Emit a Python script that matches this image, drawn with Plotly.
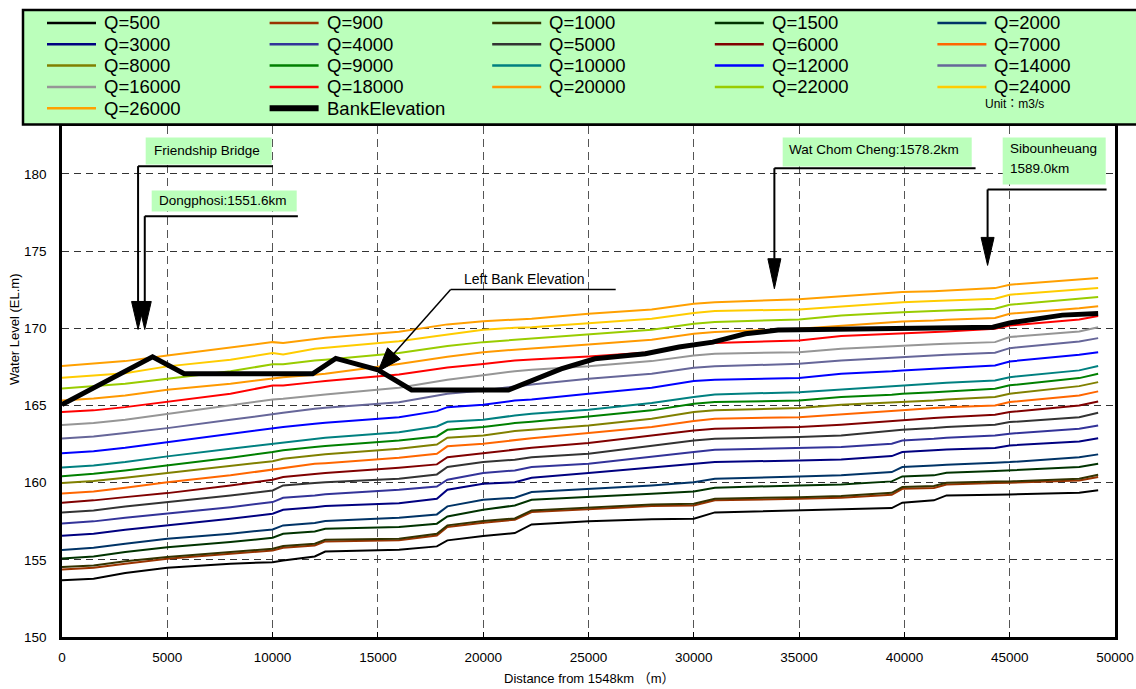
import plotly.graph_objects as go

# ---------------- data ----------------
X_STATIONS = [0, 1500, 3000, 5000, 8000, 10000, 10500, 12000, 12500, 16000, 17800, 18300,
              20000, 21500, 22300, 25000, 28000, 30000, 31000, 35000, 37000, 39400, 39900,
              41400, 42000, 44300, 45000, 48300, 49200]

Q_LABELS = ["Q=500", "Q=900", "Q=1000", "Q=1500", "Q=2000", "Q=3000", "Q=4000", "Q=5000",
            "Q=6000", "Q=7000", "Q=8000", "Q=9000", "Q=10000", "Q=12000", "Q=14000",
            "Q=16000", "Q=18000", "Q=20000", "Q=22000", "Q=24000", "Q=26000"]

Q_COLORS = ["#000000", "#993300", "#333300", "#003300", "#003366", "#000080", "#333399",
            "#333333", "#800000", "#FF6600", "#808000", "#008000", "#008080", "#0000FF",
            "#666699", "#969696", "#FF0000", "#FF9900", "#99CC00", "#FFCC00", "#FFA000"]

WL_500 = [153.67, 153.77, 154.14, 154.49, 154.75, 154.85, 154.96, 155.22, 155.54, 155.65, 155.87, 156.26,
          156.54, 156.73, 157.29, 157.49, 157.62, 157.66, 158.07, 158.22, 158.26, 158.35, 158.70,
          158.85, 159.17, 159.21, 159.23, 159.34, 159.50]
WL_900 = [154.38, 154.49, 154.75, 155.07, 155.39, 155.61, 155.78, 155.93, 156.19, 156.26, 156.58, 157.12,
          157.40, 157.60, 158.09, 158.26, 158.48, 158.52, 158.85, 158.96, 159.02, 159.21, 159.60,
          159.65, 159.88, 159.97, 159.99, 160.14, 160.36]
WL_1000 = [154.53, 154.63, 154.90, 155.18, 155.50, 155.72, 155.89, 156.04, 156.30, 156.36, 156.69, 157.23,
           157.51, 157.68, 158.20, 158.37, 158.59, 158.63, 158.96, 159.06, 159.13, 159.34, 159.71,
           159.78, 159.99, 160.08, 160.08, 160.25, 160.51]
WL_1500 = [155.09, 155.22, 155.50, 155.82, 156.15, 156.43, 156.69, 156.84, 157.01, 157.12, 157.34, 157.81,
           158.24, 158.52, 158.89, 159.06, 159.28, 159.43, 159.67, 159.82, 159.88, 160.08, 160.40,
           160.47, 160.64, 160.75, 160.79, 161.01, 161.22]
WL_2000 = [155.63, 155.78, 156.04, 156.36, 156.69, 156.97, 157.23, 157.38, 157.51, 157.72, 157.94, 158.46,
           158.89, 159.02, 159.39, 159.60, 159.82, 160.03, 160.25, 160.40, 160.47, 160.68, 161.01,
           161.11, 161.16, 161.29, 161.33, 161.65, 161.83]
WL_3000 = [156.56, 156.69, 156.95, 157.23, 157.66, 157.98, 158.24, 158.41, 158.48, 158.67, 158.95, 159.54,
           159.93, 160.03, 160.31, 160.62, 160.96, 161.18, 161.33, 161.44, 161.50, 161.72, 161.98,
           162.09, 162.15, 162.24, 162.41, 162.67, 162.88]
WL_4000 = [157.36, 157.49, 157.72, 157.98, 158.41, 158.74, 159.02, 159.17, 159.24, 159.54, 159.75, 160.19,
           160.62, 160.79, 161.01, 161.22, 161.65, 161.98, 162.13, 162.24, 162.30, 162.52, 162.73,
           162.84, 162.91, 163.06, 163.17, 163.49, 163.70]
WL_5000 = [158.07, 158.20, 158.46, 158.74, 159.17, 159.49, 159.82, 159.97, 160.03, 160.25, 160.53, 161.01,
           161.33, 161.48, 161.65, 161.87, 162.41, 162.73, 162.84, 162.95, 163.06, 163.32, 163.42,
           163.53, 163.60, 163.75, 163.92, 164.24, 164.52]
WL_6000 = [158.69, 158.85, 159.06, 159.32, 159.82, 160.19, 160.36, 160.57, 160.62, 160.96, 161.18, 161.65,
           161.91, 162.13, 162.26, 162.56, 163.06, 163.38, 163.49, 163.60, 163.75, 163.96, 164.03,
           164.18, 164.24, 164.40, 164.57, 165.00, 165.26]
WL_7000 = [159.30, 159.43, 159.67, 160.03, 160.47, 160.83, 160.96, 161.22, 161.26, 161.61, 161.87, 162.35,
           162.52, 162.78, 162.88, 163.21, 163.60, 163.99, 164.14, 164.24, 164.40, 164.61, 164.68,
           164.83, 164.89, 165.00, 165.22, 165.65, 165.91]
WL_8000 = [159.97, 160.10, 160.31, 160.62, 161.05, 161.39, 161.55, 161.76, 161.83, 162.19, 162.47, 162.91,
           163.06, 163.34, 163.42, 163.70, 164.14, 164.57, 164.68, 164.83, 165.04, 165.17, 165.22,
           165.32, 165.39, 165.54, 165.76, 166.25, 166.51]
WL_9000 = [160.42, 160.57, 160.79, 161.11, 161.61, 161.98, 162.09, 162.30, 162.37, 162.73, 162.99, 163.42,
           163.60, 163.86, 163.94, 164.29, 164.68, 165.11, 165.22, 165.32, 165.54, 165.69, 165.76,
           165.86, 165.91, 166.08, 166.30, 166.77, 167.05]
WL_10000 = [160.98, 161.11, 161.33, 161.70, 162.19, 162.52, 162.62, 162.84, 162.91, 163.27, 163.64, 163.94,
            164.07, 164.35, 164.46, 164.72, 165.15, 165.54, 165.71, 165.86, 166.04, 166.25, 166.30,
            166.40, 166.47, 166.62, 166.83, 167.27, 167.55]
WL_12000 = [161.91, 162.04, 162.26, 162.62, 163.15, 163.53, 163.60, 163.81, 163.88, 164.24, 164.63, 164.89,
            165.04, 165.32, 165.39, 165.76, 166.14, 166.58, 166.66, 166.77, 167.05, 167.22, 167.27,
            167.37, 167.42, 167.59, 167.85, 168.28, 168.45]
WL_14000 = [162.86, 162.99, 163.21, 163.53, 164.07, 164.46, 164.52, 164.78, 164.85, 165.20, 165.65, 165.76,
            165.97, 166.25, 166.36, 166.73, 167.05, 167.44, 167.53, 167.70, 167.91, 168.09, 168.13,
            168.24, 168.28, 168.41, 168.71, 169.14, 169.36]
WL_16000 = [163.73, 163.86, 164.07, 164.46, 165.00, 165.39, 165.43, 165.65, 165.71, 166.14, 166.58, 166.66,
            166.95, 167.22, 167.31, 167.53, 167.87, 168.24, 168.35, 168.45, 168.67, 168.84, 168.89,
            168.97, 168.99, 169.10, 169.43, 169.79, 170.07]
WL_18000 = [164.57, 164.68, 164.89, 165.22, 165.76, 166.29, 166.29, 166.51, 166.58, 167.00, 167.37, 167.46,
            167.68, 167.91, 167.98, 168.17, 168.45, 168.89, 169.04, 169.21, 169.49, 169.62, 169.64,
            169.75, 169.79, 169.97, 170.18, 170.57, 170.79]
WL_20000 = [165.32, 165.45, 165.65, 166.01, 166.40, 166.73, 166.83, 166.98, 167.05, 167.68, 168.05, 168.15,
            168.45, 168.63, 168.69, 168.95, 169.25, 169.64, 169.75, 169.97, 170.18, 170.40, 170.44,
            170.50, 170.55, 170.66, 170.94, 171.30, 171.43]
WL_22000 = [166.10, 166.23, 166.40, 166.73, 167.22, 167.66, 167.66, 167.91, 167.96, 168.40, 168.75, 168.85,
            169.10, 169.25, 169.32, 169.60, 169.90, 170.29, 170.40, 170.57, 170.83, 171.00, 171.04,
            171.11, 171.15, 171.26, 171.52, 171.91, 172.02]
WL_24000 = [166.79, 166.92, 167.09, 167.53, 167.96, 168.39, 168.30, 168.67, 168.73, 169.15, 169.50, 169.60,
            169.90, 170.03, 170.07, 170.33, 170.61, 170.98, 171.11, 171.22, 171.43, 171.65, 171.69,
            171.76, 171.80, 171.91, 172.17, 172.51, 172.60]
WL_26000 = [167.55, 167.70, 167.87, 168.24, 168.73, 169.10, 169.04, 169.32, 169.38, 169.78, 170.15, 170.25,
            170.46, 170.57, 170.61, 170.94, 171.22, 171.58, 171.69, 171.87, 172.08, 172.30, 172.34,
            172.40, 172.45, 172.60, 172.82, 173.16, 173.25]

Q_VALUES = [WL_500, WL_900, WL_1000, WL_1500, WL_2000, WL_3000, WL_4000, WL_5000, WL_6000,
            WL_7000, WL_8000, WL_9000, WL_10000, WL_12000, WL_14000, WL_16000, WL_18000,
            WL_20000, WL_22000, WL_24000, WL_26000]

BANK_NAME = "BankElevation"
BANK_X = [0, 4300, 5800, 11900, 13000, 15000, 16600, 21200, 23700, 25300, 27700, 29300, 30900,
          32450, 34000, 44200, 45000, 47500, 49200]
BANK_Y = [165.05, 168.15, 167.05, 167.05, 168.05, 167.30, 166.00, 166.00, 167.37, 168.02, 168.35,
          168.78, 169.10, 169.64, 169.88, 170.07, 170.35, 170.85, 170.95]

X_TICKS = [0, 5000, 10000, 15000, 20000, 25000, 30000, 35000, 40000, 45000, 50000]
Y_TICKS = [150, 155, 160, 165, 170, 175, 180]

# ---------------- layout constants ----------------
W, H = 1136, 689
M_L, M_R, M_T, M_B = 62, 21, 126, 52
X_RANGE = [0, 50000]
Y_RANGE = [150, 183.1]
PLOT_W = W - M_L - M_R
PLOT_H = H - M_T - M_B
SX = PLOT_W / (X_RANGE[1] - X_RANGE[0])
SY = PLOT_H / (Y_RANGE[1] - Y_RANGE[0])
GREEN = "#BBFFBB"
FONT = "Liberation Sans, Arial, 'Noto Sans CJK JP', sans-serif"


def pxx(px):  # figure pixel -> paper x
    return (px - M_L) / PLOT_W


def pxy(py):  # figure pixel -> paper y
    return (H - M_B - py) / PLOT_H


fig = go.Figure()
for name, color, vals in zip(Q_LABELS, Q_COLORS, Q_VALUES):
    fig.add_trace(go.Scatter(x=X_STATIONS, y=vals, mode="lines", name=name, showlegend=False,
                             line=dict(color=color, width=2)))
fig.add_trace(go.Scatter(x=BANK_X, y=BANK_Y, mode="lines", name=BANK_NAME, showlegend=False,
                         line=dict(color="black", width=5)))

shapes = []
annotations = []

# ---- legend box drawn by hand (5 columns) ----
shapes.append(dict(type="rect", xref="paper", yref="paper", x0=pxx(23), x1=pxx(1142),
                   y0=pxy(124.5), y1=pxy(10), fillcolor=GREEN, line=dict(color="black", width=2.5),
                   layer="above"))
leg_items = list(zip(Q_LABELS, Q_COLORS, [2.5] * len(Q_LABELS))) + [(BANK_NAME, "black", 6)]
for i, (lab, col, lw) in enumerate(leg_items):
    r, c = divmod(i, 5)
    x0 = 47 + 222.6 * c
    yy = 23 + 21.3 * r
    shapes.append(dict(type="line", xref="paper", yref="paper", x0=pxx(x0), x1=pxx(x0 + 49),
                       y0=pxy(yy), y1=pxy(yy), line=dict(color=col, width=lw), layer="above"))
    annotations.append(dict(x=pxx(x0 + 55), y=pxy(yy), xref="paper", yref="paper", text=lab,
                            showarrow=False, xanchor="left", yanchor="middle",
                            font=dict(size=18.5, color="black", family=FONT)))
annotations.append(dict(x=pxx(983), y=pxy(104), xref="paper", yref="paper", text="Unit：m3/s",
                        showarrow=False, xanchor="left", yanchor="middle",
                        font=dict(size=12, color="black", family=FONT)))


def arrow_head(tx, ty, ux, uy, length, half):
    """triangle with tip at data (tx,ty); (ux,uy) screen direction (y down); sizes in px"""
    bx = -ux * length
    by = -uy * length
    nx, ny = -uy, ux
    pts = [(0, 0), (bx + nx * half, by + ny * half), (bx - nx * half, by - ny * half)]
    d = "M " + " L ".join(f"{tx + px / SX},{ty - py / SY}" for px, py in pts) + " Z"
    return dict(type="path", path=d, xref="x", yref="y", fillcolor="black",
                line=dict(color="black", width=1))


def leader(vx, hy, hx_end, tip_y, length, label_lines, box, lw=2):
    shapes.append(dict(type="rect", xref="x", yref="y", x0=box[0], x1=box[1], y0=box[2], y1=box[3],
                       fillcolor=GREEN, line=dict(width=0), layer="above"))
    shapes.append(dict(type="line", xref="x", yref="y", x0=vx, x1=hx_end, y0=hy, y1=hy,
                       line=dict(color="black", width=lw)))
    shapes.append(dict(type="line", xref="x", yref="y", x0=vx, x1=vx, y0=hy, y1=tip_y + length / SY,
                       line=dict(color="black", width=lw)))
    shapes.append(arrow_head(vx, tip_y, 0, 1, length, 6.5))
    for (tx, ty, txt) in label_lines:
        annotations.append(dict(x=tx, y=ty, xref="x", yref="y", text=txt, showarrow=False,
                                xanchor="left", yanchor="middle",
                                font=dict(size=13.5, color="black", family=FONT)))


leader(3612, 180.5, 10014, 169.92, 28, [(4259, 181.51, "Friendship Bridge")],
       (3974, 9957, 180.61, 182.36))
leader(3930, 177.26, 11200, 169.92, 28, [(4497, 178.25, "Dongphosi:1551.6km")],
       (4259, 11145, 177.56, 178.92))
leader(33826, 180.37, 43380, 172.56, 30, [(34410, 181.58, "Wat Chom Cheng:1578.2km")],
       (34221, 43196, 180.48, 182.36))
leader(43950, 178.99, 49600, 174.07, 28, [(44900, 181.64, "Sibounheuang"), (44900, 180.35, "1589.0km")],
       (44667, 49558, 179.31, 182.36))

# Left bank elevation pointer
LB_TIP = (15005, 167.2)
LB_START = (18454, 172.51)
LB_END_X = 26292
shapes.append(dict(type="line", xref="x", yref="y", x0=LB_START[0], x1=LB_END_X, y0=LB_START[1],
                   y1=LB_START[1], line=dict(color="black", width=1.5)))
shapes.append(dict(type="line", xref="x", yref="y", x0=LB_START[0], x1=LB_TIP[0], y0=LB_START[1],
                   y1=LB_TIP[1], line=dict(color="black", width=1.5)))
dxp = (LB_TIP[0] - LB_START[0]) * SX
dyp = -(LB_TIP[1] - LB_START[1]) * SY
ln = (dxp ** 2 + dyp ** 2) ** 0.5
shapes.append(arrow_head(LB_TIP[0], LB_TIP[1], dxp / ln, dyp / ln, 24, 8.5))
annotations.append(dict(x=18973, y=173.22, xref="x", yref="y", text="Left Bank Elevation",
                        showarrow=False, xanchor="left", yanchor="middle",
                        font=dict(size=14, color="black", family=FONT)))

# axis titles
annotations.append(dict(x=pxx(14), y=pxy(329), xref="paper", yref="paper", text="Water Level (EL.m)",
                        showarrow=False, textangle=-90, xanchor="center", yanchor="middle",
                        font=dict(size=13, color="black", family=FONT)))
annotations.append(dict(x=pxx(589), y=pxy(679), xref="paper", yref="paper",
                        text="Distance from 1548km （m）", showarrow=False, xanchor="center",
                        yanchor="middle", font=dict(size=13, color="black", family=FONT)))

fig.update_layout(
    width=W, height=H,
    margin=dict(l=M_L, r=M_R, t=M_T, b=M_B, pad=0, autoexpand=False),
    paper_bgcolor="white", plot_bgcolor="white",
    font=dict(family=FONT, color="black"),
    shapes=shapes, annotations=annotations, showlegend=False,
    xaxis=dict(range=X_RANGE, tickvals=X_TICKS, tickformat="d", showgrid=True, gridcolor="#555555",
               gridwidth=1, griddash="8px,5px", zeroline=False, showline=True, linecolor="black",
               linewidth=2.5, mirror=True, ticks="inside", ticklen=5, tickcolor="black",
               tickfont=dict(size=13.5, color="black"), ticklabelstandoff=6),
    yaxis=dict(range=Y_RANGE, tickvals=Y_TICKS, tickformat="d", showgrid=True, gridcolor="#333333",
               gridwidth=1, griddash="7px,5px", zeroline=False, showline=True, linecolor="black",
               linewidth=2.5, mirror=True, ticks="", tickfont=dict(size=13.5, color="black"),
               ticklabelstandoff=10),
)

fig.write_html("out.html", config={"displayModeBar": False},
               post_script="document.body.style.margin='0';document.body.style.overflow='hidden';")
